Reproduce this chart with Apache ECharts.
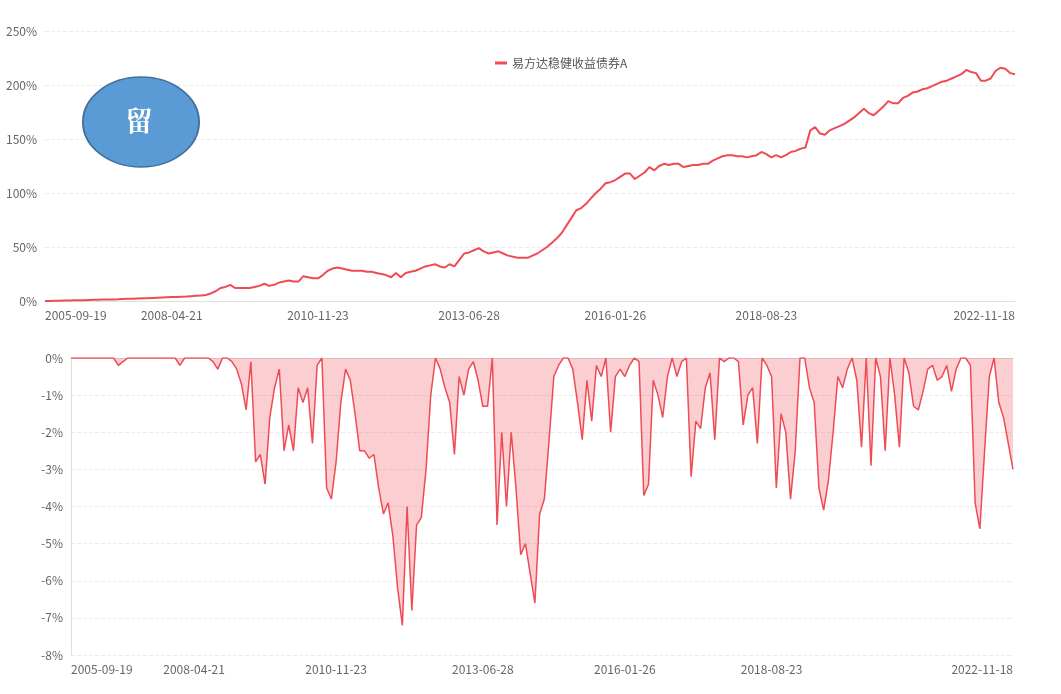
<!DOCTYPE html>
<html>
<head>
    <meta charset="utf-8">
    <title>易方达稳健收益债券A</title>
    <script src="https://cdn.jsdelivr.net/npm/echarts@6/dist/echarts.min.js"></script>
    <style>
        html, body { margin: 0; padding: 0; background: #fff; }
        #main { width: 1061px; height: 694px; }
    </style>
</head>
<body>
    <div id="main"></div>
    <script type="text/javascript">
        // x tick labels and where they sit among the 200 sample points
        var tickLabels = ['2005-09-19', '2008-04-21', '2010-11-23', '2013-06-28', '2016-01-26', '2018-08-23', '2022-11-18'];
        var tickPos = [0, 26, 56, 87, 117, 148, 199];

        // cumulative return (%)
        var cumReturn = [
            0, 0.1, 0.2, 0.3, 0.4, 0.5, 0.6, 0.7, 0.8, 1.0,
            1.1, 1.2, 1.3, 1.4, 1.5, 1.6, 1.8, 2.0, 2.1, 2.3,
            2.5, 2.6, 2.8, 3.0, 3.2, 3.4, 3.6, 3.8, 4.0, 4.2,
            4.5, 4.8, 5.0, 5.5, 7.0, 9.0, 12, 13, 15, 12,
            12, 12, 12, 13, 14, 16, 14, 15, 17, 18,
            19, 18, 18, 23, 22, 21, 21, 24, 28, 30,
            31, 30, 29, 28, 28, 28, 27, 27, 26, 25,
            24, 22, 26, 22, 26, 27, 28, 30, 32, 33,
            34, 32, 31, 34, 32, 38, 44, 45, 47, 49,
            46, 44, 45, 46, 44, 42, 41, 40, 40, 40,
            42, 44, 47, 50, 54, 58, 63, 70, 77, 84,
            86, 90, 95, 100, 104, 109, 110, 112, 115, 118,
            118, 113, 116, 119, 124, 121, 125, 127, 126, 127,
            127, 124, 125, 126, 126, 127, 127, 130, 132, 134,
            135, 135, 134, 134, 133, 134, 135, 138, 136, 133,
            135, 133, 135, 138, 139, 141, 142, 158, 161, 155,
            154, 158, 160, 162, 164, 167, 170, 174, 178, 174,
            172, 176, 180, 185, 183, 183, 188, 190, 193, 194,
            196, 197, 199, 201, 203, 204, 206, 208, 210, 214,
            212, 211, 204, 204, 206, 213, 216, 215, 211, 210
        ];

        // drawdown (%)
        var drawdown = [
            0, 0, 0, 0, 0, 0, 0, 0, 0, 0,
            -0.2, -0.1, 0, 0, 0, 0, 0, 0, 0, 0,
            0, 0, 0, -0.2, 0, 0, 0, 0, 0, 0,
            -0.1, -0.3, 0, 0, -0.1, -0.3, -0.7, -1.4, -0.1, -2.8,
            -2.6, -3.4, -1.6, -0.8, -0.3, -2.5, -1.8, -2.5, -0.8, -1.2,
            -0.8, -2.3, -0.2, 0, -3.5, -3.8, -2.8, -1.2, -0.3, -0.6,
            -1.5, -2.5, -2.5, -2.7, -2.6, -3.5, -4.2, -3.9, -4.8, -6.2,
            -7.2, -4.0, -6.8, -4.5, -4.3, -3.0, -1.0, 0, -0.3, -0.8,
            -1.2, -2.6, -0.5, -1.0, -0.3, -0.1, -0.6, -1.3, -1.3, 0,
            -4.5, -2.0, -4.0, -2.0, -3.5, -5.3, -5.0, -5.8, -6.6, -4.2,
            -3.8, -2.2, -0.5, -0.2, 0, 0, -0.3, -1.2, -2.2, -0.6,
            -1.7, -0.2, -0.5, 0, -2.0, -0.5, -0.3, -0.5, -0.2, 0,
            -0.1, -3.7, -3.4, -0.6, -1.0, -1.6, -0.5, 0, -0.5, -0.1,
            0, -3.2, -1.7, -1.9, -0.8, -0.4, -2.2, 0, -0.1, 0,
            0, -0.1, -1.8, -1.0, -0.8, -2.3, 0, -0.2, -0.5, -3.5,
            -1.5, -2.0, -3.8, -2.5, 0, 0, -0.8, -1.2, -3.5, -4.1,
            -3.3, -2.0, -0.5, -0.8, -0.3, 0, -0.6, -2.4, 0, -2.9,
            0, -0.5, -2.5, 0, -1.0, -2.4, 0, -0.4, -1.3, -1.4,
            -0.9, -0.3, -0.2, -0.6, -0.5, -0.2, -0.9, -0.3, 0, 0,
            -0.2, -3.9, -4.6, -2.5, -0.5, 0, -1.2, -1.6, -2.3, -3.0
        ];

        var categories = [];
        for (var i = 0; i < cumReturn.length; i++) {
            categories.push(String(i));
        }

        function showTick(idx) {
            return tickPos.indexOf(idx) >= 0;
        }
        function tickText(v, idx) {
            var k = tickPos.indexOf(idx);
            return k >= 0 ? tickLabels[k] : '';
        }

        var red = '#F04B55';
        var xAxisBase = {
            type: 'category',
            boundaryGap: false,
            data: categories,
            axisLine: { lineStyle: { color: '#E0E0E0' } },
            axisTick: { show: false },
            axisLabel: {
                interval: showTick, formatter: tickText, color: '#666', fontSize: 12,
                alignMinLabel: 'left', alignMaxLabel: 'right', margin: 8
            },
            splitLine: { show: false }
        };
        var yLabel = { color: '#666', fontSize: 12, formatter: '{value}%' };
        var yGrid = { lineStyle: { color: '#EBEBEB', type: 'dashed' } };

        var myChart = echarts.init(document.getElementById('main'));
        var option = {
            animation: false,
            textStyle: { fontFamily: 'Noto Sans CJK SC, sans-serif' },
            legend: {
                top: 52, left: 490,
                itemWidth: 12, itemHeight: 3,
                textStyle: { color: '#555', fontSize: 12 },
                data: [{ name: '易方达稳健收益债券A', icon: 'rect' }]
            },
            grid: [
                { left: 45, right: 46, top: 31, height: 270 },
                { left: 71, right: 48, top: 358, height: 297 }
            ],
            xAxis: [
                Object.assign({ gridIndex: 0 }, xAxisBase),
                Object.assign({ gridIndex: 1 }, xAxisBase)
            ],
            yAxis: [
                { gridIndex: 0, type: 'value', min: 0, max: 250, interval: 50,
                  axisLabel: yLabel, splitLine: yGrid, axisLine: { show: false }, axisTick: { show: false } },
                { gridIndex: 1, type: 'value', min: -8, max: 0, interval: 1,
                  axisLabel: yLabel, splitLine: yGrid, axisLine: { show: true, lineStyle: { color: '#E0E0E0' } }, axisTick: { show: false } }
            ],
            graphic: [
                { type: 'circle', x: 141, y: 122, scaleX: 1.29, z: 100, shape: { cx: 0, cy: 0, r: 45 },
                  style: { fill: '#5B9BD5', stroke: '#41719C', lineWidth: 1.5 } },
                { type: 'text', x: 139, y: 121, z: 101,
                  style: { text: '留', fill: '#fff', font: 'bold 27px "Noto Serif CJK SC", "DejaVu Serif", "Noto Sans CJK SC", serif', align: 'center', verticalAlign: 'middle' } }
            ],
            series: [
                {
                    name: '易方达稳健收益债券A', type: 'line', xAxisIndex: 0, yAxisIndex: 0,
                    data: cumReturn, showSymbol: false, color: red,
                    lineStyle: { width: 2, color: red }
                },
                {
                    name: '回撤', type: 'line', xAxisIndex: 1, yAxisIndex: 1,
                    data: drawdown, showSymbol: false, color: red,
                    lineStyle: { width: 1.5, color: red },
                    areaStyle: { color: 'rgba(240,75,85,0.38)', origin: 'end' }
                }
            ]
        };
        myChart.setOption(option);
    </script>
</body>
</html>
